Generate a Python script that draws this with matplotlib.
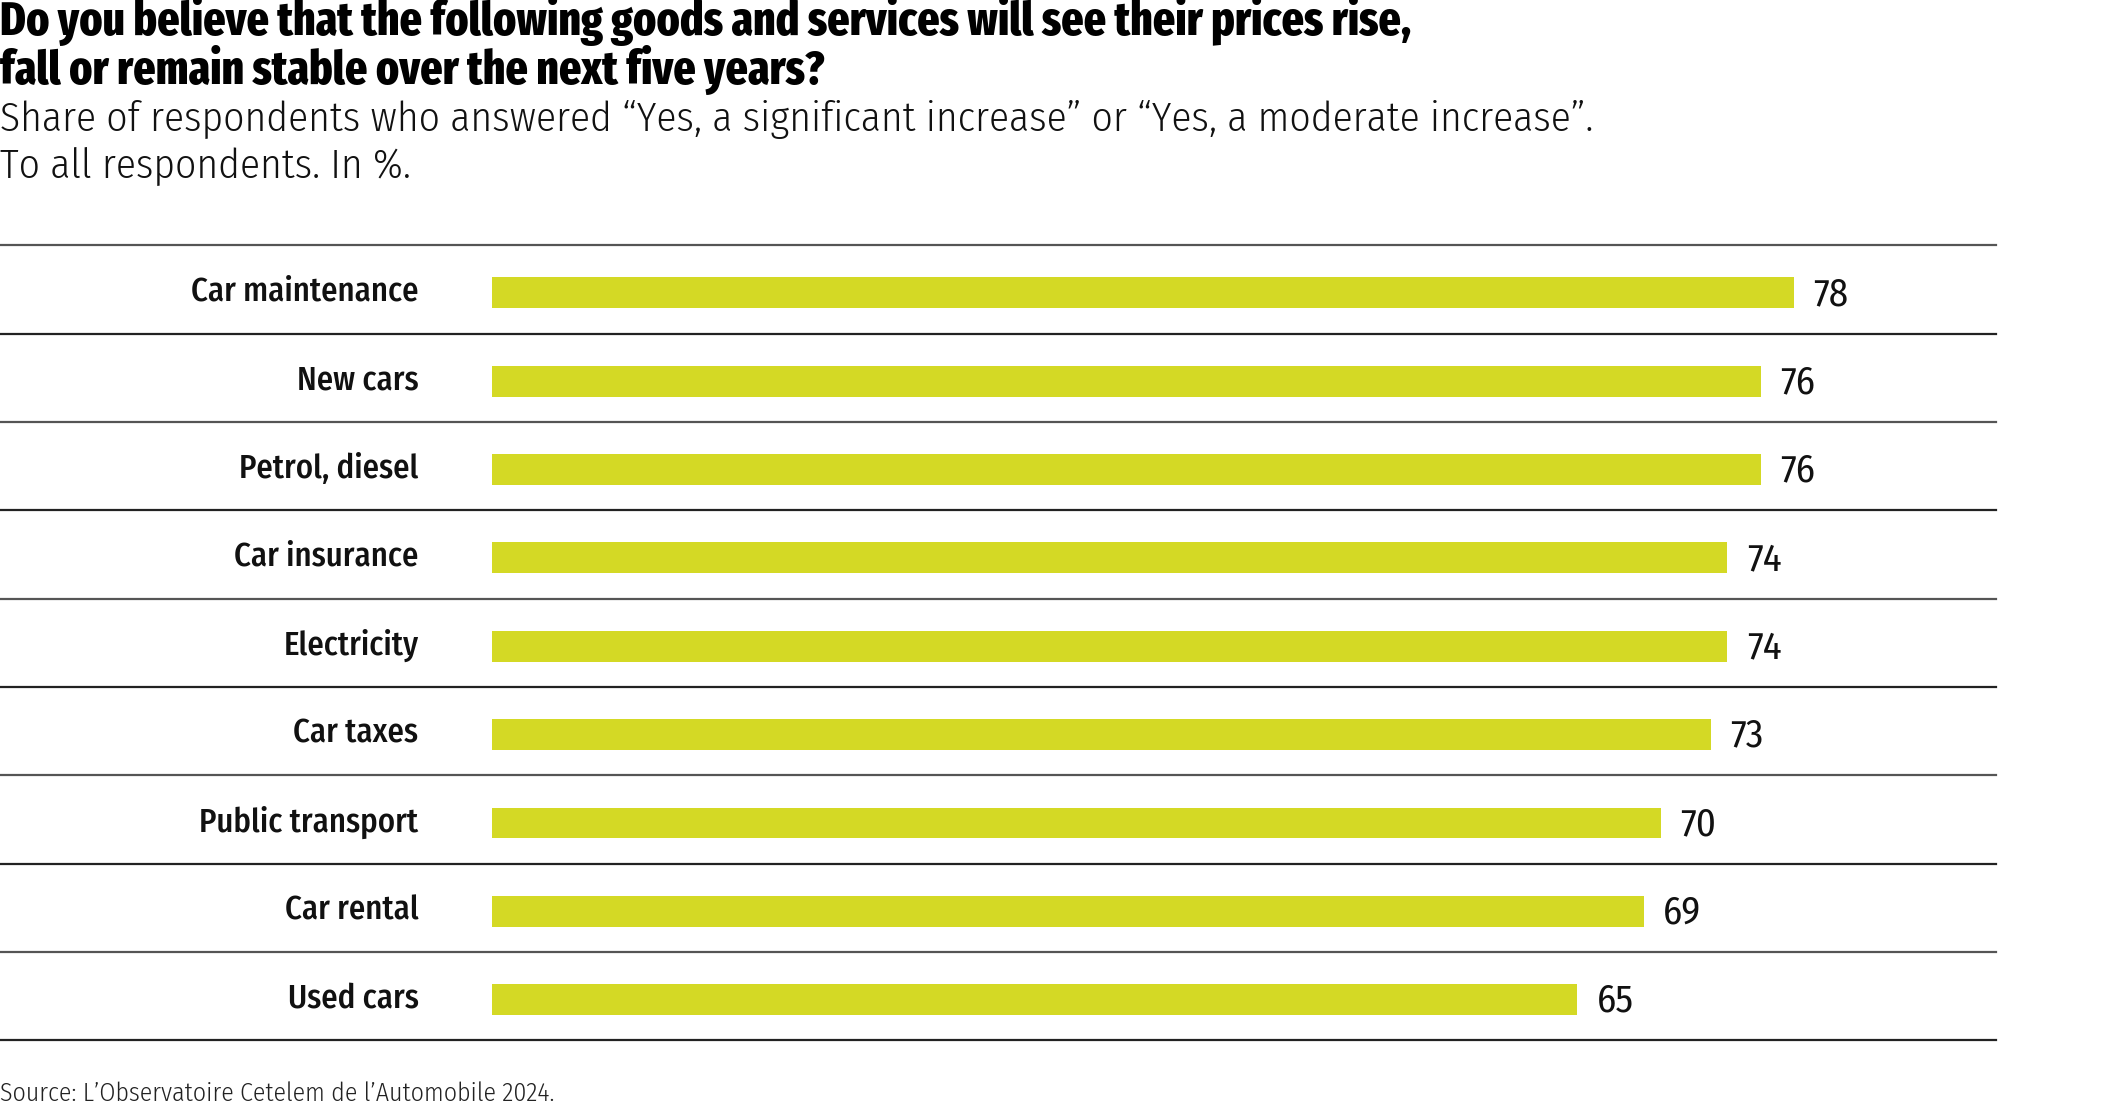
import matplotlib
matplotlib.use("Agg")
import matplotlib.pyplot as plt

categories = ["Car maintenance", "New cars", "Petrol, diesel", "Car insurance",
              "Electricity", "Car taxes", "Public transport", "Car rental", "Used cars"]
values = [78, 76, 76, 74, 74, 73, 70, 69, 65]

title_lines = ["Do you believe that the following goods and services will see their prices rise,",
               "fall or remain stable over the next five years?"]
subtitle_lines = ["Share of respondents who answered \u201cYes, a significant increase\u201d or \u201cYes, a moderate increase\u201d.",
                  "To all respondents. In %."]
source = "Source: L\u2019Observatoire Cetelem de l\u2019Automobile 2024."

cond = ["Fira Sans Condensed", "DejaVu Sans"]
xcond = ["Fira Sans Extra Condensed", "Fira Sans Condensed", "DejaVu Sans"]
plt.rcParams['font.family'] = cond

W, H = 2125, 1104
fig = plt.figure(figsize=(W / 100, H / 100), dpi=100)

bar_color = "#d4d925"
ax_left = 363 / 1568
ax_right = 1473 / 1568
ax_bottom = 1 - 768 / 815
ax_top = 1 - 181 / 815
ax = fig.add_axes([ax_left, ax_bottom, ax_right - ax_left, ax_top - ax_bottom])
xmax = (1473 - 363) / 12.32
ax.set_xlim(0, xmax)
n = len(categories)
ax.set_ylim(n, 0)
ypos = [i + 0.5 for i in range(n)]
ax.barh([y + 0.04 for y in ypos], values, height=0.35, color=bar_color, edgecolor="none")
for y, v in zip(ypos, values):
    ax.text(v + 1.15, y + 0.06, f"{v}", va="center", ha="left", fontsize=28, fontweight=400, color="#111111")
for y, c in zip(ypos, categories):
    ax.text(-4.4, y + 0.03, c, va="center", ha="right", fontsize=23.5, fontweight=500, color="#111111")

axw = ax_right - ax_left
xmin_frac = -ax_left / axw
for i in range(n + 1):
    col = "#555555" if i % 2 == 0 else "#222222"
    ax.axhline(i, xmin=xmin_frac, xmax=1, color=col, lw=1.6, clip_on=False)

ax.axis("off")

fig.text(0.0, 0.968, title_lines[0], fontsize=34, fontweight=800, va="baseline", ha="left",
         color="#000000", family=xcond)
fig.text(0.0, 0.924, title_lines[1], fontsize=34, fontweight=800, va="baseline", ha="left",
         color="#000000", family=xcond)
fig.text(0.0, 0.881, subtitle_lines[0], fontsize=29.8, fontweight=300, va="baseline", ha="left", color="#111111")
fig.text(0.0, 0.840, subtitle_lines[1], fontsize=29.8, fontweight=300, va="baseline", ha="left", color="#111111")
fig.text(0.0, 0.003, source, fontsize=18.6, fontweight=300, va="baseline", ha="left", color="#222222")

fig.savefig("out.png", dpi=100, facecolor="white")
